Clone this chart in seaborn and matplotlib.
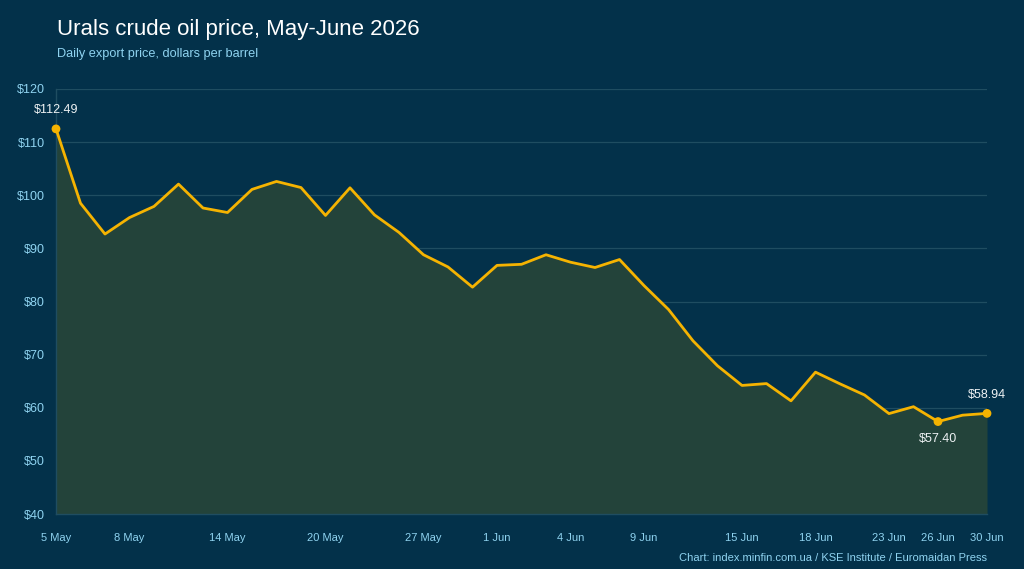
import matplotlib
matplotlib.use("Agg")
import matplotlib.pyplot as plt
import seaborn as sns
import pandas as pd

# ---- data ----
dates = ["5 May", "6 May", "7 May", "8 May", "11 May", "12 May", "13 May", "14 May",
         "15 May", "18 May", "19 May", "20 May", "21 May", "22 May", "26 May", "27 May",
         "28 May", "29 May", "1 Jun", "2 Jun", "3 Jun", "4 Jun", "5 Jun", "8 Jun",
         "9 Jun", "10 Jun", "11 Jun", "12 Jun", "15 Jun", "16 Jun", "17 Jun", "18 Jun",
         "19 Jun", "22 Jun", "23 Jun", "24 Jun", "26 Jun", "29 Jun", "30 Jun"]
prices = [112.49, 98.5, 92.7, 95.8, 97.9, 102.1, 97.6, 96.75,
          101.1, 102.6, 101.45, 96.2, 101.4, 96.3, 93.0, 88.8,
          86.5, 82.7, 86.8, 87.0, 88.8, 87.4, 86.4, 87.9,
          83.0, 78.5, 72.6, 67.9, 64.2, 64.55, 61.3, 66.7,
          64.5, 62.4, 58.9, 60.2, 57.40, 58.6, 58.94]
tick_labels = ["5 May", "8 May", "14 May", "20 May", "27 May", "1 Jun", "4 Jun",
               "9 Jun", "15 Jun", "18 Jun", "23 Jun", "26 Jun", "30 Jun"]
y_ticks = [40, 50, 60, 70, 80, 90, 100, 110, 120]
highlight = {0: "above", 36: "below", 38: "above"}

df = pd.DataFrame({"idx": range(len(prices)), "date": dates, "price": prices})

BG = "#03314a"
FILL = "#23433a"
LINE = "#f5b301"
GRID = "#1f4d61"
TICK = "#8fd3f0"

sns.set_theme(style="dark")
plt.rcParams["font.family"] = ["Liberation Sans", "DejaVu Sans"]

fig = plt.figure(figsize=(10.24, 5.69), dpi=100, facecolor=BG)
ax = fig.add_axes([56/1024, 1-514/569, (987-56)/1024, (514-89)/569])
ax.set_facecolor(BG)

ax.fill_between(df["idx"], df["price"], 40, color=FILL, zorder=1, linewidth=0)
sns.lineplot(data=df, x="idx", y="price", ax=ax, color=LINE, linewidth=2.0, zorder=3)

for i, pos in highlight.items():
    ax.scatter([df["idx"][i]], [df["price"][i]], s=40, color=LINE, zorder=4,
               edgecolor="none", clip_on=False)
    txt = f"${df['price'][i]:.2f}"
    if pos == "above":
        ax.annotate(txt, (df["idx"][i], df["price"][i]), xytext=(0, 9), textcoords="offset points",
                    ha="center", va="bottom", color="#eef2f4", fontsize=9)
    else:
        ax.annotate(txt, (df["idx"][i], df["price"][i]), xytext=(0, -8), textcoords="offset points",
                    ha="center", va="top", color="#eef2f4", fontsize=9)

ax.set_xlim(0, len(prices) - 1)
ax.set_ylim(40, 120)
ax.set_yticks(y_ticks)
ax.set_yticklabels([f"${v}" for v in y_ticks])
tick_pos = [dates.index(t) for t in tick_labels]
ax.set_xticks(tick_pos)
ax.set_xticklabels(tick_labels)
ax.tick_params(axis="x", colors=TICK, labelsize=8, length=0, pad=14)
ax.tick_params(axis="y", colors=TICK, labelsize=9, length=0, pad=8)
ax.set_xlabel("")
ax.set_ylabel("")
ax.grid(axis="y", color=GRID, linewidth=0.9, zorder=0)
ax.grid(axis="x", visible=False)
ax.set_axisbelow(True)
for s in ["top", "right"]:
    ax.spines[s].set_visible(False)
for s in ["left", "bottom"]:
    ax.spines[s].set_visible(True)
    ax.spines[s].set_color(GRID)
    ax.spines[s].set_linewidth(1.0)
    ax.spines[s].set_zorder(2)

fig.text(57/1024, 1-35/569, "Urals crude oil price, May-June 2026", color="white",
         fontsize=16, ha="left", va="baseline")
fig.text(57/1024, 1-57/569, "Daily export price, dollars per barrel", color=TICK,
         fontsize=9.2, ha="left", va="baseline")
fig.text(987/1024, 1-561/569, "Chart: index.minfin.com.ua / KSE Institute / Euromaidan Press",
         color=TICK, fontsize=8, ha="right", va="baseline")

fig.savefig("out.png", dpi=100, facecolor=BG)
